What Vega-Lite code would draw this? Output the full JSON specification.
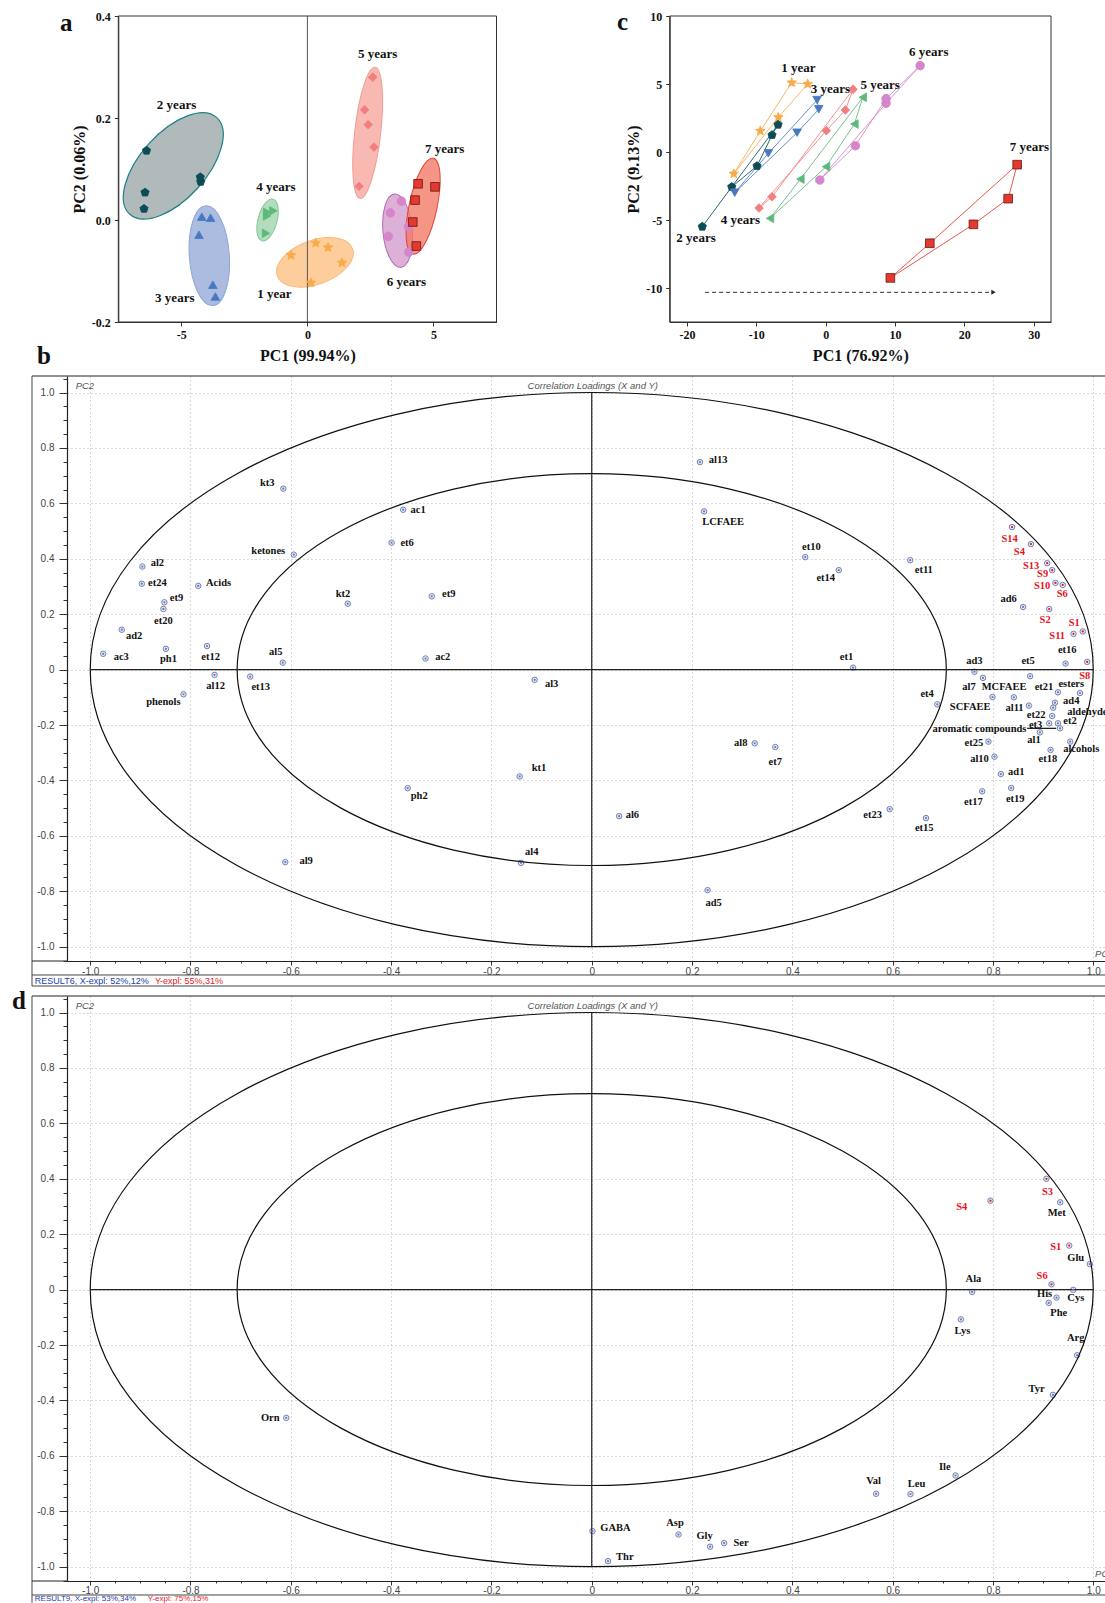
{
"$schema": "https://vega.github.io/schema/vega-lite/v6.json",
"autosize": {"type": "pad"},
"padding": {"left": 11, "top": 10, "right": 0, "bottom": 0},
"background": "white",
"config": {"view": {"stroke": null}},
"datasets": {
"one": [{"i": 1}],
"apts": [
{"g":"2 years","x":-6.38,"y":0.136},{"g":"2 years","x":-6.44,"y":0.054},{"g":"2 years","x":-6.48,"y":0.022},{"g":"2 years","x":-4.25,"y":0.084},{"g":"2 years","x":-4.23,"y":0.075},
{"g":"3 years","x":-4.19,"y":0.0065},{"g":"3 years","x":-3.84,"y":0.0045},{"g":"3 years","x":-4.30,"y":-0.029},{"g":"3 years","x":-3.75,"y":-0.127},{"g":"3 years","x":-3.65,"y":-0.150},
{"g":"4 years","x":-1.59,"y":0.015},{"g":"4 years","x":-1.35,"y":0.018},{"g":"4 years","x":-1.60,"y":0.008},{"g":"4 years","x":-1.64,"y":-0.026},
{"g":"1 year","x":-0.65,"y":-0.069},{"g":"1 year","x":0.33,"y":-0.045},{"g":"1 year","x":0.82,"y":-0.054},{"g":"1 year","x":1.37,"y":-0.084},{"g":"1 year","x":0.14,"y":-0.123},
{"g":"5 years","x":2.59,"y":0.280},{"g":"5 years","x":2.27,"y":0.216},{"g":"5 years","x":2.41,"y":0.187},{"g":"5 years","x":2.64,"y":0.143},{"g":"5 years","x":2.05,"y":0.066},
{"g":"6 years","x":3.73,"y":0.037},{"g":"6 years","x":3.29,"y":0.014},{"g":"6 years","x":3.21,"y":-0.032},{"g":"6 years","x":4.01,"y":-0.013},{"g":"6 years","x":4.02,"y":-0.063},
{"g":"7 years","x":4.39,"y":0.071},{"g":"7 years","x":5.06,"y":0.065},{"g":"7 years","x":4.27,"y":0.039},{"g":"7 years","x":4.18,"y":-0.004},{"g":"7 years","x":4.32,"y":-0.051}
],
"aell": [
{"g":"2 years","x":-5.32,"y":0.106},{"g":"3 years","x":-3.89,"y":-0.070},{"g":"4 years","x":-1.58,"y":0.0},{"g":"1 year","x":0.30,"y":-0.083},{"g":"5 years","x":2.39,"y":0.171},{"g":"6 years","x":3.58,"y":-0.021},{"g":"7 years","x":4.59,"y":0.027}
],
"alab": [
{"t":"2 years","x":-5.19,"y":0.225},{"t":"3 years","x":-5.26,"y":-0.152},{"t":"4 years","x":-1.25,"y":0.065},{"t":"1 year","x":-1.31,"y":-0.146},{"t":"5 years","x":2.79,"y":0.325},{"t":"7 years","x":5.44,"y":0.139},{"t":"6 years","x":3.93,"y":-0.121}
],
"cpath": [
{"g":"1 year","o":1,"x":-13.26,"y":-1.60},{"g":"1 year","o":2,"x":-9.43,"y":1.54},{"g":"1 year","o":3,"x":-4.90,"y":5.10},{"g":"1 year","o":4,"x":-2.59,"y":5.00},{"g":"1 year","o":5,"x":-6.83,"y":2.55},{"g":"1 year","o":6,"x":-13.26,"y":-1.60},
{"g":"2 years","o":1,"x":-17.80,"y":-5.49},{"g":"2 years","o":2,"x":-13.55,"y":-2.57},{"g":"2 years","o":3,"x":-9.90,"y":-1.03},{"g":"2 years","o":4,"x":-7.74,"y":1.25},{"g":"2 years","o":5,"x":-6.87,"y":2.01},{"g":"2 years","o":6,"x":-13.55,"y":-2.57},
{"g":"3 years","o":1,"x":-13.12,"y":-2.99},{"g":"3 years","o":2,"x":-8.27,"y":-0.10},{"g":"3 years","o":3,"x":-1.24,"y":3.82},{"g":"3 years","o":4,"x":-1.00,"y":3.14},{"g":"3 years","o":5,"x":-4.13,"y":1.42},{"g":"3 years","o":6,"x":-13.12,"y":-2.99},
{"g":"4 years","o":1,"x":-8.03,"y":-4.88},{"g":"4 years","o":2,"x":-3.65,"y":-1.99},{"g":"4 years","o":3,"x":5.35,"y":4.02},{"g":"4 years","o":4,"x":4.14,"y":2.06},{"g":"4 years","o":5,"x":0.05,"y":-1.08},{"g":"4 years","o":6,"x":-8.03,"y":-4.88},
{"g":"5 years","o":1,"x":-9.61,"y":-4.12},{"g":"5 years","o":2,"x":0.10,"y":1.57},{"g":"5 years","o":3,"x":2.84,"y":3.09},{"g":"5 years","o":4,"x":3.95,"y":4.61},{"g":"5 years","o":5,"x":-7.74,"y":-3.29},{"g":"5 years","o":6,"x":-9.61,"y":-4.12},
{"g":"6 years","o":1,"x":-0.85,"y":-2.06},{"g":"6 years","o":2,"x":8.71,"y":3.58},{"g":"6 years","o":3,"x":13.62,"y":6.35},{"g":"6 years","o":4,"x":8.71,"y":3.92},{"g":"6 years","o":5,"x":4.28,"y":0.46},{"g":"6 years","o":6,"x":-0.85,"y":-2.06},
{"g":"7 years","o":1,"x":9.33,"y":-9.26},{"g":"7 years","o":2,"x":15.02,"y":-6.71},{"g":"7 years","o":3,"x":27.62,"y":-0.93},{"g":"7 years","o":4,"x":26.32,"y":-3.43},{"g":"7 years","o":5,"x":21.31,"y":-5.32},{"g":"7 years","o":6,"x":9.33,"y":-9.26}
],
"clab": [
{"t":"6 years","x":14.87,"y":7.38},{"t":"1 year","x":-3.94,"y":6.16},{"t":"3 years","x":0.67,"y":4.61},{"t":"5 years","x":7.85,"y":4.93},{"t":"7 years","x":29.39,"y":0.37},{"t":"4 years","x":-12.31,"y":-5.0},{"t":"2 years","x":-18.70,"y":-6.30}
],
"carrow": [{"x":-17.4,"x2":24.2,"y":-10.32}],
"bline": [{"x":0.868,"x2":0.926,"y":-0.212}],
"bpts": [
{"n":"kt3","k":"v","x":-0.615,"y":0.653,"lx":-0.647,"ly":0.674},
{"n":"ac1","k":"v","x":-0.376,"y":0.577,"lx":-0.346,"ly":0.575},
{"n":"et6","k":"v","x":-0.399,"y":0.458,"lx":-0.368,"ly":0.458},
{"n":"ketones","k":"v","x":-0.594,"y":0.415,"lx":-0.645,"ly":0.428},
{"n":"al2","k":"v","x":-0.896,"y":0.372,"lx":-0.866,"ly":0.384},
{"n":"et24","k":"v","x":-0.897,"y":0.310,"lx":-0.866,"ly":0.313},
{"n":"Acids","k":"v","x":-0.7845,"y":0.302,"lx":-0.744,"ly":0.313},
{"n":"et9","k":"v","x":-0.852,"y":0.243,"lx":-0.828,"ly":0.257},
{"n":"et20","k":"v","x":-0.854,"y":0.219,"lx":-0.854,"ly":0.174},
{"n":"kt2","k":"v","x":-0.4865,"y":0.238,"lx":-0.496,"ly":0.273},
{"n":"et9","k":"v","x":-0.319,"y":0.2645,"lx":-0.285,"ly":0.273},
{"n":"ad2","k":"v","x":-0.937,"y":0.144,"lx":-0.9125,"ly":0.121},
{"n":"ac3","k":"v","x":-0.974,"y":0.057,"lx":-0.938,"ly":0.047},
{"n":"ph1","k":"v","x":-0.849,"y":0.075,"lx":-0.844,"ly":0.037},
{"n":"et12","k":"v","x":-0.767,"y":0.085,"lx":-0.760,"ly":0.047},
{"n":"al5","k":"v","x":-0.616,"y":0.025,"lx":-0.630,"ly":0.064},
{"n":"ac2","k":"v","x":-0.3314,"y":0.040,"lx":-0.297,"ly":0.047},
{"n":"al12","k":"v","x":-0.752,"y":-0.019,"lx":-0.750,"ly":-0.060},
{"n":"et13","k":"v","x":-0.681,"y":-0.025,"lx":-0.660,"ly":-0.062},
{"n":"al3","k":"v","x":-0.1138,"y":-0.037,"lx":-0.080,"ly":-0.052},
{"n":"phenols","k":"v","x":-0.814,"y":-0.089,"lx":-0.854,"ly":-0.118},
{"n":"ph2","k":"v","x":-0.367,"y":-0.428,"lx":-0.344,"ly":-0.457},
{"n":"kt1","k":"v","x":-0.1437,"y":-0.3855,"lx":-0.105,"ly":-0.355},
{"n":"al9","k":"v","x":-0.611,"y":-0.695,"lx":-0.5695,"ly":-0.692},
{"n":"al4","k":"v","x":-0.141,"y":-0.6976,"lx":-0.1195,"ly":-0.660},
{"n":"al13","k":"v","x":0.2157,"y":0.749,"lx":0.252,"ly":0.755},
{"n":"LCFAEE","k":"v","x":0.224,"y":0.571,"lx":0.262,"ly":0.533},
{"n":"et10","k":"v","x":0.4256,"y":0.406,"lx":0.438,"ly":0.443},
{"n":"et14","k":"v","x":0.4925,"y":0.359,"lx":0.4666,"ly":0.331},
{"n":"et11","k":"v","x":0.635,"y":0.395,"lx":0.662,"ly":0.359},
{"n":"S14","k":"s","x":0.838,"y":0.5145,"lx":0.833,"ly":0.473},
{"n":"S4","k":"s","x":0.8756,"y":0.453,"lx":0.8526,"ly":0.425},
{"n":"S13","k":"s","x":0.908,"y":0.384,"lx":0.876,"ly":0.374},
{"n":"S9","k":"s","x":0.918,"y":0.359,"lx":0.899,"ly":0.344},
{"n":"S10","k":"s","x":0.9245,"y":0.313,"lx":0.898,"ly":0.302},
{"n":"S6","k":"s","x":0.939,"y":0.3055,"lx":0.938,"ly":0.272},
{"n":"ad6","k":"v","x":0.860,"y":0.226,"lx":0.831,"ly":0.254},
{"n":"S2","k":"s","x":0.912,"y":0.2186,"lx":0.904,"ly":0.180},
{"n":"S1","k":"s","x":0.979,"y":0.1377,"lx":0.962,"ly":0.169},
{"n":"S11","k":"s","x":0.9605,"y":0.129,"lx":0.928,"ly":0.122},
{"n":"et16","k":"v","x":0.9447,"y":0.0217,"lx":0.948,"ly":0.072},
{"n":"S8","k":"s","x":0.9878,"y":0.0278,"lx":0.983,"ly":-0.024},
{"n":"et1","k":"v","x":0.521,"y":0.007,"lx":0.508,"ly":0.046},
{"n":"ad3","k":"v","x":0.763,"y":-0.0075,"lx":0.763,"ly":0.030},
{"n":"al7","k":"v","x":0.780,"y":-0.030,"lx":0.752,"ly":-0.062},
{"n":"et5","k":"v","x":0.874,"y":-0.024,"lx":0.870,"ly":0.030},
{"n":"SCFAEE","k":"v","x":0.799,"y":-0.099,"lx":0.7545,"ly":-0.136},
{"n":"MCFAEE","k":"v","x":0.8417,"y":-0.100,"lx":0.822,"ly":-0.062},
{"n":"al11","k":"v","x":0.8716,"y":-0.130,"lx":0.843,"ly":-0.1375},
{"n":"et21","k":"v","x":0.9295,"y":-0.082,"lx":0.9016,"ly":-0.062},
{"n":"esters","k":"v","x":0.9734,"y":-0.0845,"lx":0.956,"ly":-0.052},
{"n":"ad4","k":"v","x":0.9235,"y":-0.1195,"lx":0.956,"ly":-0.1145},
{"n":"aldehydes","k":"v","x":0.920,"y":-0.1375,"lx":0.992,"ly":-0.154},
{"n":"et22","k":"v","x":0.918,"y":-0.1675,"lx":0.886,"ly":-0.164},
{"n":"et3","k":"v","x":0.912,"y":-0.194,"lx":0.885,"ly":-0.199},
{"n":"et2","k":"v","x":0.9295,"y":-0.194,"lx":0.9535,"ly":-0.1845},
{"n":"aromatic compounds","k":"v","x":0.9335,"y":-0.212,"lx":0.773,"ly":-0.2155},
{"n":"al1","k":"v","x":0.8935,"y":-0.2265,"lx":0.8816,"ly":-0.254},
{"n":"et25","k":"v","x":0.791,"y":-0.260,"lx":0.762,"ly":-0.266},
{"n":"alcohols","k":"v","x":0.954,"y":-0.260,"lx":0.976,"ly":-0.288},
{"n":"et18","k":"v","x":0.9148,"y":-0.290,"lx":0.9095,"ly":-0.3216},
{"n":"al10","k":"v","x":0.803,"y":-0.3144,"lx":0.773,"ly":-0.3216},
{"n":"ad1","k":"v","x":0.8157,"y":-0.377,"lx":0.8463,"ly":-0.3697},
{"n":"et17","k":"v","x":0.7784,"y":-0.4394,"lx":0.761,"ly":-0.479},
{"n":"et19","k":"v","x":0.8363,"y":-0.4274,"lx":0.8443,"ly":-0.467},
{"n":"et4","k":"v","x":0.689,"y":-0.1253,"lx":0.6687,"ly":-0.088},
{"n":"al8","k":"v","x":0.325,"y":-0.266,"lx":0.297,"ly":-0.266},
{"n":"et7","k":"v","x":0.366,"y":-0.2795,"lx":0.366,"ly":-0.335},
{"n":"al6","k":"v","x":0.0546,"y":-0.529,"lx":0.081,"ly":-0.5265},
{"n":"ad5","k":"v","x":0.231,"y":-0.796,"lx":0.243,"ly":-0.841},
{"n":"et23","k":"v","x":0.594,"y":-0.5036,"lx":0.560,"ly":-0.524},
{"n":"et15","k":"v","x":0.6664,"y":-0.536,"lx":0.663,"ly":-0.572}
],
"dpts": [
{"n":"S3","k":"s","x":0.9065,"y":0.400,"lx":0.9087,"ly":0.3527},
{"n":"Met","k":"v","x":0.934,"y":0.315,"lx":0.927,"ly":0.275},
{"n":"S4","k":"s","x":0.795,"y":0.321,"lx":0.7376,"ly":0.297},
{"n":"S1","k":"s","x":0.952,"y":0.159,"lx":0.925,"ly":0.153},
{"n":"Glu","k":"v","x":0.993,"y":0.092,"lx":0.965,"ly":0.115},
{"n":"S6","k":"s","x":0.9166,"y":0.019,"lx":0.898,"ly":0.0495},
{"n":"Ala","k":"v","x":0.7584,"y":-0.0085,"lx":0.761,"ly":0.0386},
{"n":"Cys","k":"v","x":0.960,"y":-0.001,"lx":0.965,"ly":-0.031},
{"n":"His","k":"v","x":0.9267,"y":-0.029,"lx":0.9029,"ly":-0.017},
{"n":"Phe","k":"v","x":0.911,"y":-0.048,"lx":0.931,"ly":-0.0845},
{"n":"Lys","k":"v","x":0.736,"y":-0.1075,"lx":0.739,"ly":-0.148},
{"n":"Arg","k":"v","x":0.9677,"y":-0.237,"lx":0.9648,"ly":-0.175},
{"n":"Tyr","k":"v","x":0.9195,"y":-0.380,"lx":0.887,"ly":-0.360},
{"n":"Ile","k":"v","x":0.7254,"y":-0.671,"lx":0.7038,"ly":-0.639},
{"n":"Val","k":"v","x":0.567,"y":-0.737,"lx":0.562,"ly":-0.690},
{"n":"Leu","k":"v","x":0.6355,"y":-0.738,"lx":0.6477,"ly":-0.700},
{"n":"GABA","k":"v","x":0.0014,"y":-0.872,"lx":0.0474,"ly":-0.860},
{"n":"Asp","k":"v","x":0.173,"y":-0.884,"lx":0.166,"ly":-0.843},
{"n":"Gly","k":"v","x":0.236,"y":-0.928,"lx":0.225,"ly":-0.890},
{"n":"Ser","k":"v","x":0.264,"y":-0.915,"lx":0.2977,"ly":-0.914},
{"n":"Thr","k":"v","x":0.0324,"y":-0.980,"lx":0.066,"ly":-0.964},
{"n":"Orn","k":"v","x":-0.609,"y":-0.463,"lx":-0.641,"ly":-0.463}
]
},
"bounds": "flush",
"spacing": 35,
"resolve": {"scale": {"color": "independent", "fill": "independent", "stroke": "independent", "shape": "independent"}},
"vconcat": [
{
"width": 1038, "height": 325,
"view": {"stroke": null},
"resolve": {"scale": {"x": "independent", "y": "independent", "shape": "independent"}, "axis": {"x": "independent", "y": "independent"}},
"layer": [
{
"layer": [
{"data": {"name": "apts"}, "mark": {"type": "point", "filled": true, "size": 75, "opacity": 0},
"encoding": {
"x": {"field": "x", "type": "quantitative", "scale": {"domain": [-7.5, 7.5], "range": [51.3, 429.5], "nice": false, "zero": false},
"axis": {"orient": "bottom", "offset": -19, "values": [-5, 0, 5], "title": "PC1 (99.94%)", "grid": false, "labelFlush": false, "labelExpr": "replace(format(datum.value,'d'),'\u2212','-')", "labelFont": "Liberation Serif", "labelFontWeight": "bold", "labelFontSize": 12, "labelColor": "#111", "labelPadding": 3, "tickSize": 4, "tickColor": "#333", "domainColor": "#333", "titleFont": "Liberation Serif", "titleFontWeight": "bold", "titleFontSize": 16, "titleColor": "#111", "titlePadding": 7}},
"y": {"field": "y", "type": "quantitative", "scale": {"domain": [-0.2, 0.4], "range": [306, 0], "nice": false, "zero": false},
"axis": {"orient": "left", "offset": -51.3, "values": [-0.2, 0, 0.2, 0.4], "title": "PC2 (0.06%)", "grid": false, "labelFlush": false, "labelExpr": "replace(format(datum.value,'.1f'),'\u2212','-')", "labelFont": "Liberation Serif", "labelFontWeight": "bold", "labelFontSize": 12, "labelColor": "#111", "labelPadding": 4, "tickSize": 4, "tickColor": "#333", "domainColor": "#333", "titleFont": "Liberation Serif", "titleFontWeight": "bold", "titleFontSize": 16, "titleColor": "#111", "titlePadding": 4}}
}},
{"data": {"name": "aell"}, "transform": [{"filter": "datum.g == '2 years'"}], "mark": {"type": "point", "shape": "M0,-0.65C0.1823,-0.65 0.33,-0.359 0.33,0C0.33,0.359 0.1823,0.65 0,0.65C-0.1823,0.65 -0.33,0.359 -0.33,0C-0.33,-0.359 -0.1823,-0.65 0,-0.65Z", "size": 40000, "angle": 42, "filled": true, "fill": "#acb6b6", "fillOpacity": 0.95, "stroke": "#1f8088", "strokeWidth": 1.2, "opacity": 1}, "encoding": {"x": {"field": "x", "type": "quantitative"}, "y": {"field": "y", "type": "quantitative"}}},
{"data": {"name": "aell"}, "transform": [{"filter": "datum.g == '3 years'"}], "mark": {"type": "point", "shape": "M0,-0.5C0.1105,-0.5 0.2,-0.2762 0.2,0C0.2,0.2762 0.1105,0.5 0,0.5C-0.1105,0.5 -0.2,0.2762 -0.2,0C-0.2,-0.2762 -0.1105,-0.5 0,-0.5Z", "size": 40000, "angle": -4, "filled": true, "fill": "#a6b8de", "fillOpacity": 0.95, "stroke": "#8fa6d8", "strokeWidth": 1, "opacity": 1}, "encoding": {"x": {"field": "x", "type": "quantitative"}, "y": {"field": "y", "type": "quantitative"}}},
{"data": {"name": "aell"}, "transform": [{"filter": "datum.g == '4 years'"}], "mark": {"type": "point", "shape": "M0,-0.215C0.0525,-0.215 0.095,-0.1187 0.095,0C0.095,0.1187 0.0525,0.215 0,0.215C-0.0525,0.215 -0.095,0.1187 -0.095,0C-0.095,-0.1187 -0.0525,-0.215 0,-0.215Z", "size": 40000, "angle": 15, "filled": true, "fill": "#aedcba", "fillOpacity": 0.95, "stroke": "#84c99a", "strokeWidth": 1, "opacity": 1}, "encoding": {"x": {"field": "x", "type": "quantitative"}, "y": {"field": "y", "type": "quantitative"}}},
{"data": {"name": "aell"}, "transform": [{"filter": "datum.g == '1 year'"}], "mark": {"type": "point", "shape": "M0,-0.4C0.1215,-0.4 0.22,-0.2209 0.22,0C0.22,0.2209 0.1215,0.4 0,0.4C-0.1215,0.4 -0.22,0.2209 -0.22,0C-0.22,-0.2209 -0.1215,-0.4 0,-0.4Z", "size": 40000, "angle": 70, "filled": true, "fill": "#fdca96", "fillOpacity": 0.95, "stroke": "#f9b87c", "strokeWidth": 1, "opacity": 1}, "encoding": {"x": {"field": "x", "type": "quantitative"}, "y": {"field": "y", "type": "quantitative"}}},
{"data": {"name": "aell"}, "transform": [{"filter": "datum.g == '5 years'"}], "mark": {"type": "point", "shape": "M0,-0.66C0.0718,-0.66 0.13,-0.3645 0.13,0C0.13,0.3645 0.0718,0.66 0,0.66C-0.0718,0.66 -0.13,0.3645 -0.13,0C-0.13,-0.3645 -0.0718,-0.66 0,-0.66Z", "size": 40000, "angle": 6.5, "filled": true, "fill": "#f8b5ae", "fillOpacity": 0.95, "stroke": "#f49a91", "strokeWidth": 1, "opacity": 1}, "encoding": {"x": {"field": "x", "type": "quantitative"}, "y": {"field": "y", "type": "quantitative"}}},
{"data": {"name": "aell"}, "transform": [{"filter": "datum.g == '6 years'"}], "mark": {"type": "point", "shape": "M0,-0.368C0.0812,-0.368 0.147,-0.2032 0.147,0C0.147,0.2032 0.0812,0.368 0,0.368C-0.0812,0.368 -0.147,0.2032 -0.147,0C-0.147,-0.2032 -0.0812,-0.368 0,-0.368Z", "size": 40000, "angle": -5, "filled": true, "fill": "#d9a7d3", "fillOpacity": 0.9, "stroke": "#b867b0", "strokeWidth": 1, "opacity": 1}, "encoding": {"x": {"field": "x", "type": "quantitative"}, "y": {"field": "y", "type": "quantitative"}}},
{"data": {"name": "aell"}, "transform": [{"filter": "datum.g == '7 years'"}], "mark": {"type": "point", "shape": "M0,-0.49C0.0773,-0.49 0.14,-0.2706 0.14,0C0.14,0.2706 0.0773,0.49 0,0.49C-0.0773,0.49 -0.14,0.2706 -0.14,0C-0.14,-0.2706 -0.0773,-0.49 0,-0.49Z", "size": 40000, "angle": 12, "filled": true, "fill": "#f27a66", "fillOpacity": 0.8, "stroke": "#e5443a", "strokeWidth": 1, "opacity": 1}, "encoding": {"x": {"field": "x", "type": "quantitative"}, "y": {"field": "y", "type": "quantitative"}}},
{"data": {"name": "one"}, "mark": {"type": "rule", "color": "#555", "strokeWidth": 1}, "encoding": {"x": {"datum": 0}, "y": {"datum": -0.2}, "y2": {"datum": 0.4}}},
{"data": {"name": "one"}, "mark": {"type": "rect", "filled": false, "color": "#333", "strokeWidth": 1}, "encoding": {"x": {"datum": -7.5}, "x2": {"datum": 7.5}, "y": {"datum": -0.2}, "y2": {"datum": 0.4}}},
{"data": {"name": "apts"}, "mark": {"type": "point", "filled": true, "size": 75, "opacity": 1, "strokeWidth": 0.8},
"encoding": {
"x": {"field": "x", "type": "quantitative"},
"y": {"field": "y", "type": "quantitative"},
"shape": {"field": "g", "type": "nominal", "legend": null, "scale": {"domain": ["1 year","2 years","3 years","4 years","5 years","6 years","7 years"], "range": ["M0,-1.15L0.304,-0.419L1.094,-0.355L0.492,0.16L0.676,0.93L0,0.518L-0.676,0.93L-0.492,0.16L-1.094,-0.355L-0.304,-0.419Z", "M0,-1L0.951,-0.309L0.588,0.809L-0.588,0.809L-0.951,-0.309Z", "triangle-up", "triangle-right", "diamond", "circle", "square"]}},
"color": {"field": "g", "type": "nominal", "legend": null, "scale": {"domain": ["1 year","2 years","3 years","4 years","5 years","6 years","7 years"], "range": ["#f8a94a","#0b4c57","#4878bf","#5db97b","#f27f7f","#d585c9","#e23a30"]}},
"stroke": {"field": "g", "type": "nominal", "legend": null, "scale": {"domain": ["1 year","2 years","3 years","4 years","5 years","6 years","7 years"], "range": ["#f8a94a","#0b4c57","#4878bf","#5db97b","#f27f7f","#d585c9","#6e1510"]}}
}},
{"data": {"name": "alab"}, "mark": {"type": "text", "font": "Liberation Serif", "fontWeight": "bold", "fontSize": 13, "color": "#111", "baseline": "middle"}, "encoding": {"x": {"field": "x", "type": "quantitative"}, "y": {"field": "y", "type": "quantitative"}, "text": {"field": "t"}}},
{"data": {"name": "one"}, "mark": {"type": "text", "text": "a", "font": "Liberation Serif", "fontWeight": "bold", "fontSize": 25, "align": "left", "baseline": "alphabetic", "color": "#111"}, "encoding": {"x": {"datum": -9.81}, "y": {"datum": 0.371}}},
{"data": {"name": "one"}, "mark": {"type": "text", "text": "b", "font": "Liberation Serif", "fontWeight": "bold", "fontSize": 25, "align": "left", "baseline": "alphabetic", "color": "#111"}, "encoding": {"x": {"datum": -10.72}, "y": {"datum": -0.283}}}
]
},
{
"layer": [
{"data": {"name": "cpath"}, "mark": {"type": "line", "strokeWidth": 1, "opacity": 0.85},
"encoding": {
"x": {"field": "x", "type": "quantitative", "scale": {"domain": [-22.5, 32.5], "range": [602.7, 984], "nice": false, "zero": false},
"axis": {"orient": "bottom", "offset": -19, "values": [-20, -10, 0, 10, 20, 30], "title": "PC1 (76.92%)", "grid": false, "labelFlush": false, "labelExpr": "replace(format(datum.value,'d'),'\u2212','-')", "labelFont": "Liberation Serif", "labelFontWeight": "bold", "labelFontSize": 12, "labelColor": "#111", "labelPadding": 3, "tickSize": 4, "tickColor": "#333", "domainColor": "#333", "titleFont": "Liberation Serif", "titleFontWeight": "bold", "titleFontSize": 16, "titleColor": "#111", "titlePadding": 7}},
"y": {"field": "y", "type": "quantitative", "scale": {"domain": [-12.5, 10], "range": [306, 0], "nice": false, "zero": false},
"axis": {"orient": "left", "offset": -602.7, "values": [-10, -5, 0, 5, 10], "title": "PC2 (9.13%)", "grid": false, "labelFlush": false, "labelExpr": "replace(format(datum.value,'d'),'\u2212','-')", "labelFont": "Liberation Serif", "labelFontWeight": "bold", "labelFontSize": 12, "labelColor": "#111", "labelPadding": 4, "tickSize": 4, "tickColor": "#333", "domainColor": "#333", "titleFont": "Liberation Serif", "titleFontWeight": "bold", "titleFontSize": 16, "titleColor": "#111", "titlePadding": 4}},
"color": {"field": "g", "type": "nominal", "legend": null, "scale": {"domain": ["1 year","2 years","3 years","4 years","5 years","6 years","7 years"], "range": ["#f8a94a","#0b4c57","#4878bf","#5db97b","#f27f7f","#d585c9","#e23a30"]}},
"order": {"field": "o", "type": "quantitative"}
}},
{"data": {"name": "one"}, "mark": {"type": "rect", "filled": false, "color": "#333", "strokeWidth": 1}, "encoding": {"x": {"datum": -22.5}, "x2": {"datum": 32.5}, "y": {"datum": -12.5}, "y2": {"datum": 10}}},
{"data": {"name": "carrow"}, "mark": {"type": "rule", "strokeDash": [4, 3], "color": "#333", "strokeWidth": 1}, "encoding": {"x": {"field": "x", "type": "quantitative"}, "x2": {"field": "x2"}, "y": {"field": "y", "type": "quantitative"}}},
{"data": {"name": "carrow"}, "mark": {"type": "point", "shape": "triangle-right", "filled": true, "size": 25, "color": "#222", "opacity": 1}, "encoding": {"x": {"field": "x2", "type": "quantitative"}, "y": {"field": "y", "type": "quantitative"}}},
{"data": {"name": "cpath"}, "transform": [{"filter": "datum.o < 6"}], "mark": {"type": "point", "filled": true, "size": 75, "opacity": 1, "strokeWidth": 0.8},
"encoding": {
"x": {"field": "x", "type": "quantitative"},
"y": {"field": "y", "type": "quantitative"},
"shape": {"field": "g", "type": "nominal", "legend": null, "scale": {"domain": ["1 year","2 years","3 years","4 years","5 years","6 years","7 years"], "range": ["M0,-1.15L0.304,-0.419L1.094,-0.355L0.492,0.16L0.676,0.93L0,0.518L-0.676,0.93L-0.492,0.16L-1.094,-0.355L-0.304,-0.419Z", "M0,-1L0.951,-0.309L0.588,0.809L-0.588,0.809L-0.951,-0.309Z", "triangle-down", "triangle-left", "diamond", "circle", "square"]}},
"color": {"field": "g", "type": "nominal", "legend": null, "scale": {"domain": ["1 year","2 years","3 years","4 years","5 years","6 years","7 years"], "range": ["#f8a94a","#0b4c57","#4878bf","#5db97b","#f27f7f","#d585c9","#e23a30"]}},
"stroke": {"field": "g", "type": "nominal", "legend": null, "scale": {"domain": ["1 year","2 years","3 years","4 years","5 years","6 years","7 years"], "range": ["#f8a94a","#0b4c57","#4878bf","#5db97b","#f27f7f","#d585c9","#6e1510"]}}
}},
{"data": {"name": "clab"}, "mark": {"type": "text", "font": "Liberation Serif", "fontWeight": "bold", "fontSize": 13, "color": "#111", "baseline": "middle"}, "encoding": {"x": {"field": "x", "type": "quantitative"}, "y": {"field": "y", "type": "quantitative"}, "text": {"field": "t"}}},
{"data": {"name": "one"}, "mark": {"type": "text", "text": "c", "font": "Liberation Serif", "fontWeight": "bold", "fontSize": 25, "align": "left", "baseline": "alphabetic", "color": "#111"}, "encoding": {"x": {"datum": -30.1}, "y": {"datum": 8.97}}}
]
}
]
},
{
"width": 1038, "height": 585,
"view": {"stroke": null},
"resolve": {"axis": {"x": "independent", "y": "independent"}},
"layer": [
{"data": {"name": "bpts"}, "mark": {"type": "point", "filled": true, "size": 30, "fill": "#e6e9f4", "stroke": "#7282b4", "strokeWidth": 1, "opacity": 1},
"encoding": {
"x": {"field": "x", "type": "quantitative", "scale": {"domain": [-1.0462, 1.0233], "nice": false, "zero": false},
"axis": {"orient": "bottom", "values": [-1,-0.95,-0.9,-0.85,-0.8,-0.75,-0.7,-0.65,-0.6,-0.55,-0.5,-0.45,-0.4,-0.35,-0.3,-0.25,-0.2,-0.15,-0.1,-0.05,0,0.05,0.1,0.15,0.2,0.25,0.3,0.35,0.4,0.45,0.5,0.55,0.6,0.65,0.7,0.75,0.8,0.85,0.9,0.95,1], "title": null, "grid": true, "gridColor": "#b3b3b3", "gridDash": [1, 3], "gridWidth": 1, "gridOpacity": {"condition": {"test": "abs(datum.value*5-round(datum.value*5))<0.01", "value": 1}, "value": 0}, "labelExpr": "abs(datum.value*5-round(datum.value*5))<0.01 ? (abs(datum.value)<0.001 ? '0' : replace(format(datum.value,'.1f'),'\u2212','-')) : ''", "labelFont": "Liberation Sans", "labelFontSize": 10, "labelColor": "#444", "labelPadding": 1, "labelFlush": false, "labelOverlap": false, "tickColor": "#333", "tickSize": {"condition": {"test": "abs(datum.value*5-round(datum.value*5))<0.01", "value": 4}, "value": 2}, "domain": true, "domainColor": "#222", "domainWidth": 1.2}},
"y": {"field": "y", "type": "quantitative", "scale": {"domain": [-1.0518, 1.0597], "nice": false, "zero": false},
"axis": {"orient": "left", "values": [-1.05,-1,-0.95,-0.9,-0.85,-0.8,-0.75,-0.7,-0.65,-0.6,-0.55,-0.5,-0.45,-0.4,-0.35,-0.3,-0.25,-0.2,-0.15,-0.1,-0.05,0,0.05,0.1,0.15,0.2,0.25,0.3,0.35,0.4,0.45,0.5,0.55,0.6,0.65,0.7,0.75,0.8,0.85,0.9,0.95,1,1.05], "title": null, "grid": true, "gridColor": "#b3b3b3", "gridDash": [1, 3], "gridWidth": 1, "gridOpacity": {"condition": {"test": "abs(datum.value*5-round(datum.value*5))<0.01 && abs(datum.value)<1.01", "value": 1}, "value": 0}, "labelExpr": "abs(datum.value*5-round(datum.value*5))<0.01 ? (abs(datum.value)<0.001 ? '0' : replace(format(datum.value,'.1f'),'\u2212','-')) : ''", "labelFont": "Liberation Sans", "labelFontSize": 10, "labelColor": "#444", "labelPadding": 5, "labelFlush": false, "labelOverlap": false, "tickColor": "#333", "tickSize": {"condition": {"test": "abs(datum.value*5-round(datum.value*5))<0.01", "value": 8}, "value": 4}, "domain": true, "domainColor": "#222", "domainWidth": 1.2}}
}},
{"data": {"name": "one"}, "mark": {"type": "point", "shape": "M1,0C1,0.3051 0.5523,0.5525 0,0.5525C-0.5523,0.5525 -1,0.3051 -1,0C-1,-0.3051 -0.5523,-0.5525 0,-0.5525C0.5523,-0.5525 1,-0.3051 1,0Z", "size": 1006009, "filled": false, "color": "#111", "strokeWidth": 1.2, "opacity": 1}, "encoding": {"x": {"datum": 0, "axis": null}, "y": {"datum": 0, "axis": null}}},
{"data": {"name": "one"}, "mark": {"type": "point", "shape": "M1,0C1,0.3051 0.5523,0.5525 0,0.5525C-0.5523,0.5525 -1,0.3051 -1,0C-1,-0.3051 -0.5523,-0.5525 0,-0.5525C0.5523,-0.5525 1,-0.3051 1,0Z", "size": 502965, "filled": false, "color": "#111", "strokeWidth": 1.2, "opacity": 1}, "encoding": {"x": {"datum": 0, "axis": null}, "y": {"datum": 0, "axis": null}}},
{"data": {"name": "one"}, "mark": {"type": "rule", "color": "#222", "strokeWidth": 1.2}, "encoding": {"x": {"datum": -1, "axis": null}, "x2": {"datum": 1}, "y": {"datum": 0, "axis": null}}},
{"data": {"name": "one"}, "mark": {"type": "rule", "color": "#222", "strokeWidth": 1.2}, "encoding": {"x": {"datum": 0, "axis": null}, "y": {"datum": -1, "axis": null}, "y2": {"datum": 1}}},
{"data": {"name": "one"}, "mark": {"type": "rule", "color": "#222", "strokeWidth": 1.2}, "encoding": {"x": {"datum": -1.116, "axis": null}, "x2": {"datum": 1.0233}, "y": {"datum": 1.0597, "axis": null}}},
{"data": {"name": "one"}, "mark": {"type": "rule", "color": "#444", "strokeWidth": 1}, "encoding": {"x": {"datum": -1.116, "axis": null}, "y": {"datum": 1.0597, "axis": null}, "y2": {"datum": -1.142}}},
{"data": {"name": "one"}, "mark": {"type": "rule", "color": "#222", "strokeWidth": 1.2}, "encoding": {"x": {"datum": -1.116, "axis": null}, "x2": {"datum": -1.0462}, "y": {"datum": -1.0518, "axis": null}}},
{"data": {"name": "one"}, "mark": {"type": "rule", "color": "#444", "strokeWidth": 1}, "encoding": {"x": {"datum": -1.116, "axis": null}, "x2": {"datum": 1.0233}, "y": {"datum": -1.1023, "axis": null}}},
{"data": {"name": "one"}, "mark": {"type": "rule", "color": "#444", "strokeWidth": 1}, "encoding": {"x": {"datum": -1.116, "axis": null}, "x2": {"datum": 1.0233}, "y": {"datum": -1.142, "axis": null}}},
{"data": {"name": "bline"}, "mark": {"type": "rule", "color": "#111", "strokeWidth": 1.2}, "encoding": {"x": {"field": "x", "type": "quantitative", "axis": null}, "x2": {"field": "x2"}, "y": {"field": "y", "type": "quantitative", "axis": null}}},
{"data": {"name": "bpts"}, "mark": {"type": "point", "filled": true, "size": 5, "opacity": 1},
"encoding": {"x": {"field": "x", "type": "quantitative", "axis": null}, "y": {"field": "y", "type": "quantitative", "axis": null}, "fill": {"field": "k", "type": "nominal", "legend": null, "scale": {"domain": ["v", "s"], "range": ["#6a7bb2", "#e8141b"]}}}},
{"data": {"name": "bpts"}, "mark": {"type": "text", "clip": true, "font": "Liberation Serif", "fontWeight": "bold", "fontSize": 10.5, "baseline": "middle"},
"encoding": {"x": {"field": "lx", "type": "quantitative", "axis": null}, "y": {"field": "ly", "type": "quantitative", "axis": null}, "text": {"field": "n"},
"color": {"field": "k", "type": "nominal", "legend": null, "scale": {"domain": ["v", "s"], "range": ["#111111", "#e8141b"]}}}},
{"data": {"name": "one"}, "mark": {"type": "text", "text": "PC2", "font": "Liberation Sans", "fontStyle": "italic", "fontSize": 9.5, "color": "#555", "align": "left", "baseline": "middle"}, "encoding": {"x": {"datum": -1.029, "axis": null}, "y": {"datum": 1.0236, "axis": null}}},
{"data": {"name": "one"}, "mark": {"type": "text", "text": "Correlation Loadings (X and Y)", "font": "Liberation Sans", "fontStyle": "italic", "fontSize": 9.5, "color": "#555", "align": "center", "baseline": "middle"}, "encoding": {"x": {"datum": 0.002, "axis": null}, "y": {"datum": 1.0236, "axis": null}}},
{"data": {"name": "one"}, "mark": {"type": "text", "text": "PC1", "clip": true, "font": "Liberation Sans", "fontStyle": "italic", "fontSize": 9.5, "color": "#555", "align": "left", "baseline": "middle"}, "encoding": {"x": {"datum": 1.0035, "axis": null}, "y": {"datum": -1.0265, "axis": null}}},
{"data": {"name": "one"}, "mark": {"type": "text", "text": "RESULT6, X-expl: 52%,12%", "font": "Liberation Sans", "fontSize": 9, "color": "#2340b0", "align": "left", "baseline": "middle"}, "encoding": {"x": {"datum": -1.1104, "axis": null}, "y": {"datum": -1.124, "axis": null}}},
{"data": {"name": "one"}, "mark": {"type": "text", "text": "Y-expl: 55%,31%", "font": "Liberation Sans", "fontSize": 9, "color": "#e8202a", "align": "left", "baseline": "middle"}, "encoding": {"x": {"datum": -0.871, "axis": null}, "y": {"datum": -1.124, "axis": null}}}
]
},
{
"width": 1038, "height": 585,
"view": {"stroke": null},
"resolve": {"axis": {"x": "independent", "y": "independent"}},
"layer": [
{"data": {"name": "dpts"}, "mark": {"type": "point", "filled": true, "size": 30, "fill": "#e6e9f4", "stroke": "#7282b4", "strokeWidth": 1, "opacity": 1},
"encoding": {
"x": {"field": "x", "type": "quantitative", "scale": {"domain": [-1.0462, 1.0233], "nice": false, "zero": false},
"axis": {"orient": "bottom", "values": [-1,-0.95,-0.9,-0.85,-0.8,-0.75,-0.7,-0.65,-0.6,-0.55,-0.5,-0.45,-0.4,-0.35,-0.3,-0.25,-0.2,-0.15,-0.1,-0.05,0,0.05,0.1,0.15,0.2,0.25,0.3,0.35,0.4,0.45,0.5,0.55,0.6,0.65,0.7,0.75,0.8,0.85,0.9,0.95,1], "title": null, "grid": true, "gridColor": "#b3b3b3", "gridDash": [1, 3], "gridWidth": 1, "gridOpacity": {"condition": {"test": "abs(datum.value*5-round(datum.value*5))<0.01", "value": 1}, "value": 0}, "labelExpr": "abs(datum.value*5-round(datum.value*5))<0.01 ? (abs(datum.value)<0.001 ? '0' : replace(format(datum.value,'.1f'),'\u2212','-')) : ''", "labelFont": "Liberation Sans", "labelFontSize": 10, "labelColor": "#444", "labelPadding": 0, "labelFlush": false, "labelOverlap": false, "tickColor": "#333", "tickSize": {"condition": {"test": "abs(datum.value*5-round(datum.value*5))<0.01", "value": 4}, "value": 2}, "domain": true, "domainColor": "#222", "domainWidth": 1.2}},
"y": {"field": "y", "type": "quantitative", "scale": {"domain": [-1.0518, 1.0597], "nice": false, "zero": false},
"axis": {"orient": "left", "values": [-1.05,-1,-0.95,-0.9,-0.85,-0.8,-0.75,-0.7,-0.65,-0.6,-0.55,-0.5,-0.45,-0.4,-0.35,-0.3,-0.25,-0.2,-0.15,-0.1,-0.05,0,0.05,0.1,0.15,0.2,0.25,0.3,0.35,0.4,0.45,0.5,0.55,0.6,0.65,0.7,0.75,0.8,0.85,0.9,0.95,1,1.05], "title": null, "grid": true, "gridColor": "#b3b3b3", "gridDash": [1, 3], "gridWidth": 1, "gridOpacity": {"condition": {"test": "abs(datum.value*5-round(datum.value*5))<0.01 && abs(datum.value)<1.01", "value": 1}, "value": 0}, "labelExpr": "abs(datum.value*5-round(datum.value*5))<0.01 ? (abs(datum.value)<0.001 ? '0' : replace(format(datum.value,'.1f'),'\u2212','-')) : ''", "labelFont": "Liberation Sans", "labelFontSize": 10, "labelColor": "#444", "labelPadding": 5, "labelFlush": false, "labelOverlap": false, "tickColor": "#333", "tickSize": {"condition": {"test": "abs(datum.value*5-round(datum.value*5))<0.01", "value": 8}, "value": 4}, "domain": true, "domainColor": "#222", "domainWidth": 1.2}}
}},
{"data": {"name": "one"}, "mark": {"type": "point", "shape": "M1,0C1,0.3051 0.5523,0.5525 0,0.5525C-0.5523,0.5525 -1,0.3051 -1,0C-1,-0.3051 -0.5523,-0.5525 0,-0.5525C0.5523,-0.5525 1,-0.3051 1,0Z", "size": 1006009, "filled": false, "color": "#111", "strokeWidth": 1.2, "opacity": 1}, "encoding": {"x": {"datum": 0, "axis": null}, "y": {"datum": 0, "axis": null}}},
{"data": {"name": "one"}, "mark": {"type": "point", "shape": "M1,0C1,0.3051 0.5523,0.5525 0,0.5525C-0.5523,0.5525 -1,0.3051 -1,0C-1,-0.3051 -0.5523,-0.5525 0,-0.5525C0.5523,-0.5525 1,-0.3051 1,0Z", "size": 502965, "filled": false, "color": "#111", "strokeWidth": 1.2, "opacity": 1}, "encoding": {"x": {"datum": 0, "axis": null}, "y": {"datum": 0, "axis": null}}},
{"data": {"name": "one"}, "mark": {"type": "rule", "color": "#222", "strokeWidth": 1.2}, "encoding": {"x": {"datum": -1, "axis": null}, "x2": {"datum": 1}, "y": {"datum": 0, "axis": null}}},
{"data": {"name": "one"}, "mark": {"type": "rule", "color": "#222", "strokeWidth": 1.2}, "encoding": {"x": {"datum": 0, "axis": null}, "y": {"datum": -1, "axis": null}, "y2": {"datum": 1}}},
{"data": {"name": "one"}, "mark": {"type": "rule", "color": "#222", "strokeWidth": 1.2}, "encoding": {"x": {"datum": -1.116, "axis": null}, "x2": {"datum": 1.0233}, "y": {"datum": 1.0597, "axis": null}}},
{"data": {"name": "one"}, "mark": {"type": "rule", "color": "#444", "strokeWidth": 1}, "encoding": {"x": {"datum": -1.116, "axis": null}, "y": {"datum": 1.0597, "axis": null}, "y2": {"datum": -1.13}}},
{"data": {"name": "one"}, "mark": {"type": "rule", "color": "#222", "strokeWidth": 1.2}, "encoding": {"x": {"datum": -1.116, "axis": null}, "x2": {"datum": -1.0462}, "y": {"datum": -1.0518, "axis": null}}},
{"data": {"name": "one"}, "mark": {"type": "rule", "color": "#444", "strokeWidth": 1}, "encoding": {"x": {"datum": -1.116, "axis": null}, "x2": {"datum": 1.0233}, "y": {"datum": -1.1023, "axis": null}}},
{"data": {"name": "dpts"}, "mark": {"type": "point", "filled": true, "size": 5, "opacity": 1},
"encoding": {"x": {"field": "x", "type": "quantitative", "axis": null}, "y": {"field": "y", "type": "quantitative", "axis": null}, "fill": {"field": "k", "type": "nominal", "legend": null, "scale": {"domain": ["v", "s"], "range": ["#6a7bb2", "#e8141b"]}}}},
{"data": {"name": "dpts"}, "mark": {"type": "text", "clip": true, "font": "Liberation Serif", "fontWeight": "bold", "fontSize": 10.5, "baseline": "middle"},
"encoding": {"x": {"field": "lx", "type": "quantitative", "axis": null}, "y": {"field": "ly", "type": "quantitative", "axis": null}, "text": {"field": "n"},
"color": {"field": "k", "type": "nominal", "legend": null, "scale": {"domain": ["v", "s"], "range": ["#111111", "#e8141b"]}}}},
{"data": {"name": "one"}, "mark": {"type": "text", "text": "PC2", "font": "Liberation Sans", "fontStyle": "italic", "fontSize": 9.5, "color": "#555", "align": "left", "baseline": "middle"}, "encoding": {"x": {"datum": -1.029, "axis": null}, "y": {"datum": 1.0236, "axis": null}}},
{"data": {"name": "one"}, "mark": {"type": "text", "text": "Correlation Loadings (X and Y)", "font": "Liberation Sans", "fontStyle": "italic", "fontSize": 9.5, "color": "#555", "align": "center", "baseline": "middle"}, "encoding": {"x": {"datum": 0.002, "axis": null}, "y": {"datum": 1.0236, "axis": null}}},
{"data": {"name": "one"}, "mark": {"type": "text", "text": "PC1", "clip": true, "font": "Liberation Sans", "fontStyle": "italic", "fontSize": 9.5, "color": "#555", "align": "left", "baseline": "middle"}, "encoding": {"x": {"datum": 1.0035, "axis": null}, "y": {"datum": -1.0265, "axis": null}}},
{"data": {"name": "one"}, "mark": {"type": "text", "text": "RESULT9, X-expl: 53%,34%", "font": "Liberation Sans", "fontSize": 8, "color": "#2340b0", "align": "left", "baseline": "bottom"}, "encoding": {"x": {"datum": -1.1104, "axis": null}, "y": {"datum": -1.1312, "axis": null}}},
{"data": {"name": "one"}, "mark": {"type": "text", "text": "Y-expl: 75%,15%", "font": "Liberation Sans", "fontSize": 8, "color": "#e8202a", "align": "left", "baseline": "bottom"}, "encoding": {"x": {"datum": -0.885, "axis": null}, "y": {"datum": -1.1312, "axis": null}}},
{"data": {"name": "one"}, "mark": {"type": "text", "text": "d", "font": "Liberation Serif", "fontWeight": "bold", "fontSize": 25, "align": "left", "baseline": "alphabetic", "color": "#111"}, "encoding": {"x": {"datum": -1.1561, "axis": null}, "y": {"datum": 1.0117, "axis": null}}}
]
}
]
}
